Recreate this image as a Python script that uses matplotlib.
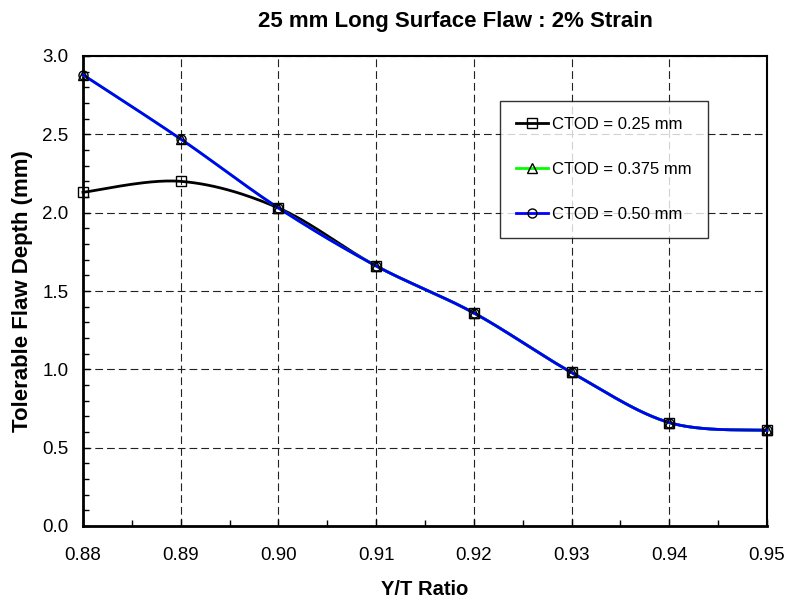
import matplotlib
matplotlib.use("Agg")
import matplotlib.pyplot as plt
import numpy as np
from matplotlib.ticker import MultipleLocator, FormatStrFormatter

# Data
YT_RATIO = [0.88, 0.89, 0.90, 0.91, 0.92, 0.93, 0.94, 0.95]
CTOD_025 = [2.13, 2.20, 2.03, 1.66, 1.36, 0.98, 0.66, 0.61]
CTOD_0375 = [2.88, 2.47, 2.03, 1.66, 1.36, 0.98, 0.66, 0.61]
CTOD_050 = [2.88, 2.47, 2.03, 1.66, 1.36, 0.98, 0.66, 0.61]
LABELS = ["CTOD = 0.25 mm", "CTOD = 0.375 mm", "CTOD = 0.50 mm"]


def smooth(x, y, n=30):
    # Excel-like smoothed line: cubic Bezier through each point (Catmull-Rom)
    x = np.asarray(x, float)
    y = np.asarray(y, float)
    p = np.column_stack([x, y])
    pts = [p[0]]
    for i in range(len(p) - 1):
        p0 = p[i - 1] if i > 0 else p[i]
        p1 = p[i]
        p2 = p[i + 1]
        p3 = p[i + 2] if i + 2 < len(p) else p[i + 1]
        c1 = p1 + (p2 - p0) / 6.0
        c2 = p2 - (p3 - p1) / 6.0
        t = np.linspace(0, 1, n)[1:, None]
        seg = ((1 - t) ** 3) * p1 + 3 * ((1 - t) ** 2) * t * c1 + 3 * (1 - t) * t ** 2 * c2 + t ** 3 * p2
        pts.extend(seg)
    pts = np.array(pts)
    return pts[:, 0], pts[:, 1]


plt.rcParams["font.family"] = ["Liberation Sans", "DejaVu Sans"]

fig = plt.figure(figsize=(7.87, 5.99), dpi=100)
fig.patch.set_facecolor("white")
ax = fig.add_axes([83 / 787, 1 - 526 / 599, (767 - 83) / 787, (526 - 56) / 599])

series = [
    (CTOD_025, "black", "s"),
    (CTOD_0375, "#00ff00", "^"),
    (CTOD_050, "#0000ff", "o"),
]
handles = []
for (vals, col, mk), lab in zip(series, LABELS):
    sx, sy = smooth(YT_RATIO, vals)
    ax.plot(sx, sy, color=col, lw=2.0, zorder=3, clip_on=False)
    ax.plot(YT_RATIO, vals, ls="none", marker=mk, ms=6.5, mfc="none",
            mec="black", mew=1.0, zorder=4, clip_on=False)
    h, = ax.plot([], [], color=col, lw=2.0, marker=mk, ms=6.5, mfc="none",
                 mec="black", mew=1.0)
    handles.append(h)

ax.set_xlim(0.88, 0.95)
ax.set_ylim(0.0, 3.0)
ax.xaxis.set_major_locator(MultipleLocator(0.01))
ax.xaxis.set_minor_locator(MultipleLocator(0.005))
ax.yaxis.set_major_locator(MultipleLocator(0.5))
ax.yaxis.set_minor_locator(MultipleLocator(0.1))
ax.xaxis.set_major_formatter(FormatStrFormatter("%.2f"))
ax.yaxis.set_major_formatter(FormatStrFormatter("%.1f"))

ax.grid(True, which="major", color="#222222", ls=(0, (7, 3.6)), lw=0.8)
ax.tick_params(which="both", direction="in", labelsize=13.5, color="black")
ax.tick_params(which="major", length=5, width=1)
ax.tick_params(which="minor", length=4, width=1)
ax.tick_params(axis="x", which="major", pad=15)
ax.tick_params(axis="y", which="major", pad=10.5)

for s in ["left", "bottom"]:
    ax.spines[s].set_linewidth(2)
for s in ["top", "right"]:
    ax.spines[s].set_linewidth(1.5)

fig.text(455 / 787, 1 - 21 / 599, "25 mm Long Surface Flaw : 2% Strain",
         fontsize=16, fontweight="bold", ha="center", va="center")
ax.set_xlabel("Y/T Ratio", fontsize=14.5, fontweight="bold")
ax.set_ylabel("Tolerable Flaw Depth (mm)", fontsize=16, fontweight="bold")
ax.xaxis.set_label_coords(0.5, -54 / 470)
ax.yaxis.set_label_coords(-50 / 684, 0.5)

leg = ax.legend(handles, LABELS, loc="upper left",
                bbox_to_anchor=(500 / 787, 1 - 101 / 599), bbox_transform=fig.transFigure,
                fontsize=12, frameon=True, fancybox=False, edgecolor="black",
                labelspacing=1.8, handlelength=1.9, handletextpad=0.3,
                borderpad=0.95, borderaxespad=0)
leg.get_frame().set_linewidth(1)
leg.set_zorder(5)

fig.savefig("out.png", dpi=100, facecolor="white")
